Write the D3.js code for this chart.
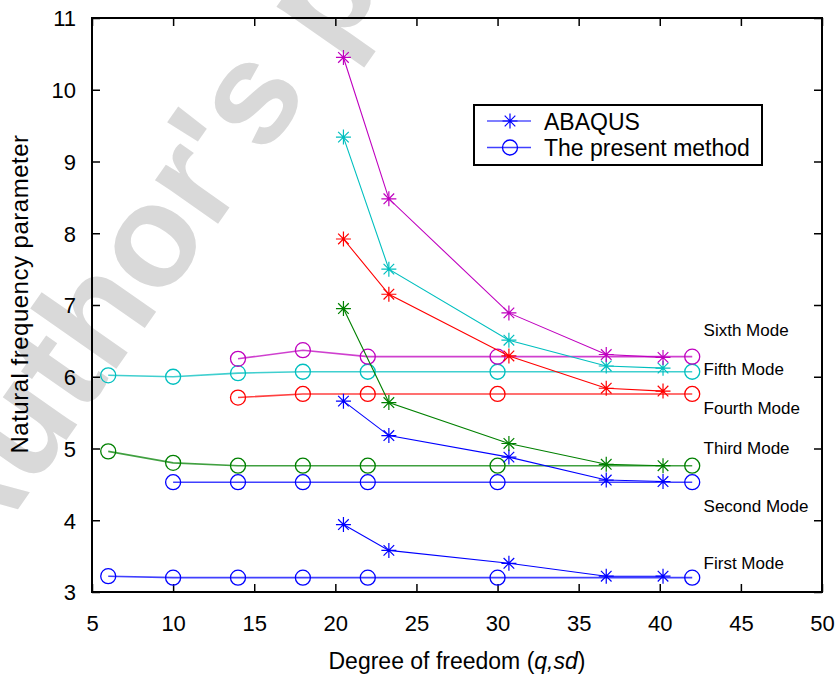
<!DOCTYPE html>
<html>
<head>
<meta charset="utf-8">
<script src="https://cdn.jsdelivr.net/npm/d3@7"></script>
<style>
  html, body { margin: 0; padding: 0; background: #fff; }
  svg { display: block; font-family: "Liberation Sans", Arial, Helvetica, sans-serif; }
</style>
</head>
<body>
<svg id="chart" width="835" height="677"></svg>
<script>
// ---------------- data ----------------
const xTicks = [5, 10, 15, 20, 25, 30, 35, 40, 45, 50];
const yTicks = [3, 4, 5, 6, 7, 8, 9, 10, 11];

const presentX = [6, 10, 14, 18, 22, 30, 42];
const present1 = [3.22, 3.20, 3.20, 3.20, 3.20, 3.20, 3.20];
const present2 = [null, 4.53, 4.53, 4.53, 4.53, 4.53, 4.53];
const present3 = [4.96, 4.80, 4.76, 4.76, 4.76, 4.76, 4.76];
const present4 = [null, null, 5.71, 5.76, 5.76, 5.76, 5.76];
const present5 = [6.02, 6.00, 6.05, 6.07, 6.07, 6.07, 6.07];
const present6 = [null, null, 6.25, 6.37, 6.28, 6.28, 6.28];

const abaqusX = [20.5, 23.3, 30.7, 36.7, 40.2];
const abaqus1 = [3.94, 3.58, 3.40, 3.22, 3.22];
const abaqus2 = [5.66, 5.18, 4.88, 4.56, 4.54];
const abaqus3 = [6.95, 5.64, 5.07, 4.78, 4.76];
const abaqus4 = [7.92, 7.15, 6.29, 5.84, 5.80];
const abaqus5 = [9.34, 7.50, 6.51, 6.15, 6.12];
const abaqus6 = [10.45, 8.48, 6.89, 6.31, 6.27];

const modeNames = ["First Mode", "Second Mode", "Third Mode", "Fourth Mode", "Fifth Mode", "Sixth Mode"];
const modeLabelY = [3.32, 4.11, 4.92, 5.48, 6.02, 6.57];
const modeColors = ["#0000ff", "#0000ff", "#008000", "#ff0000", "#00bfbf", "#bf00bf"];

const legendNames = ["ABAQUS", "The present method"];

// ---------------- layout ----------------
const svg = d3.select("#chart");
const W = 835, H = 677;
const m = { left: 92, right: 13, top: 18, bottom: 85 };
const x = d3.scaleLinear().domain([5, 50]).range([m.left, W - m.right]);
const y = d3.scaleLinear().domain([3, 11]).range([H - m.bottom, m.top]);

// watermark
svg.append("text")
  .attr("transform", "translate(-28,575) rotate(-55)")
  .attr("font-family", "Liberation Sans, Arial, sans-serif")
  .attr("font-weight", "bold")
  .attr("font-size", 145)
  .attr("fill", "#d9d9d9")
  .text("Author's personal copy");

// axes (ticks inward on all sides)
const tickLen = 8;
const gx = svg.append("g").attr("transform", `translate(0,${y(3)})`)
  .call(d3.axisBottom(x).tickValues(xTicks).tickSize(-tickLen).tickPadding(tickLen + 15).tickFormat(d3.format("d")));
const gxt = svg.append("g").attr("transform", `translate(0,${y(11)})`)
  .call(d3.axisTop(x).tickValues(xTicks).tickSize(-tickLen).tickFormat(""));
const gy = svg.append("g").attr("transform", `translate(${x(5)},0)`)
  .call(d3.axisLeft(y).tickValues(yTicks).tickSize(-tickLen).tickPadding(tickLen + 8).tickFormat(d3.format("d")));
const gyr = svg.append("g").attr("transform", `translate(${x(50)},0)`)
  .call(d3.axisRight(y).tickValues(yTicks).tickSize(-tickLen).tickFormat(""));
[gx, gxt, gy, gyr].forEach(g => {
  g.select(".domain").remove();
  g.selectAll(".tick line").attr("stroke", "#000").attr("stroke-width", 1.5);
  g.selectAll("text").attr("font-size", 22).attr("fill", "#000")
    .attr("font-family", "Liberation Sans, Arial, sans-serif");
});
gy.selectAll("text").attr("dy", "0.36em");

// frame
svg.append("rect")
  .attr("x", x(5)).attr("y", y(11))
  .attr("width", x(50) - x(5)).attr("height", y(3) - y(11))
  .attr("fill", "none").attr("stroke", "#000").attr("stroke-width", 2);

// axis titles
svg.append("text")
  .attr("x", (x(5) + x(50)) / 2).attr("y", 669)
  .attr("text-anchor", "middle").attr("font-size", 23)
  .call(t => {
    t.append("tspan").text("Degree of freedom (");
    t.append("tspan").attr("font-style", "italic").text("q,sd");
    t.append("tspan").text(")");
  });
svg.append("text")
  .attr("transform", `translate(28,294) rotate(-90)`)
  .attr("text-anchor", "middle").attr("font-size", 24).attr("letter-spacing", 0.5)
  .text("Natural frequency parameter");

// star symbol path
function starPath(r) {
  const d = r * Math.SQRT1_2;
  return `M${-r},0L${r},0M0,${-r}L0,${r}M${-d},${-d}L${d},${d}M${-d},${d}L${d},${-d}`;
}

const presentSeries = [present1, present2, present3, present4, present5, present6];
const abaqusSeries = [abaqus1, abaqus2, abaqus3, abaqus4, abaqus5, abaqus6];

const line = d3.line().defined(d => d[1] != null).x(d => x(d[0])).y(d => y(d[1]));

// present method series
presentSeries.forEach((vals, i) => {
  const pts = presentX.map((xv, j) => [xv, vals[j]]).filter(d => d[1] != null);
  const g = svg.append("g");
  g.append("path").datum(pts).attr("d", line)
    .attr("fill", "none").attr("stroke", modeColors[i]).attr("stroke-width", 1.6).attr("stroke-opacity", 0.75);
  g.selectAll("circle").data(pts).join("circle")
    .attr("cx", d => x(d[0])).attr("cy", d => y(d[1])).attr("r", 7.5)
    .attr("fill", "none").attr("stroke", modeColors[i]).attr("stroke-width", 1.3);
});

// ABAQUS series
abaqusSeries.forEach((vals, i) => {
  const pts = abaqusX.map((xv, j) => [xv, vals[j]]);
  const g = svg.append("g");
  g.append("path").datum(pts).attr("d", line)
    .attr("fill", "none").attr("stroke", modeColors[i]).attr("stroke-width", 1.1);
  g.selectAll("path.star").data(pts).join("path").attr("class", "star")
    .attr("transform", d => `translate(${x(d[0])},${y(d[1])})`)
    .attr("d", starPath(7.5))
    .attr("fill", "none").attr("stroke", modeColors[i]).attr("stroke-width", 1.2);
});

// mode labels
svg.append("g").selectAll("text").data(modeNames).join("text")
  .attr("x", x(42.7)).attr("y", (d, i) => y(modeLabelY[i]))
  .attr("font-size", 17).attr("fill", "#000")
  .text(d => d);

// legend
const lg = svg.append("g");
lg.append("rect").attr("x", 474).attr("y", 105).attr("width", 288).attr("height", 60)
  .attr("fill", "#fff").attr("stroke", "#000").attr("stroke-width", 2);
legendNames.forEach((name, i) => {
  const cy = 121 + i * 26.5;
  lg.append("line").attr("x1", 487).attr("x2", 531).attr("y1", cy).attr("y2", cy)
    .attr("stroke", "#0000ff").attr("stroke-width", i === 0 ? 1.1 : 1.6).attr("stroke-opacity", i === 0 ? 1 : 0.75);
  if (i === 0) {
    lg.append("path").attr("transform", `translate(510,${cy})`).attr("d", starPath(7.5))
      .attr("fill", "none").attr("stroke", "#0000ff").attr("stroke-width", 1.2);
  } else {
    lg.append("circle").attr("cx", 510).attr("cy", cy).attr("r", 7.5)
      .attr("fill", "none").attr("stroke", "#0000ff").attr("stroke-width", 1.3);
  }
  lg.append("text").attr("x", 544).attr("y", cy + 8.5)
    .attr("font-size", 23).attr("fill", "#000").text(name);
});
</script>
</body>
</html>
